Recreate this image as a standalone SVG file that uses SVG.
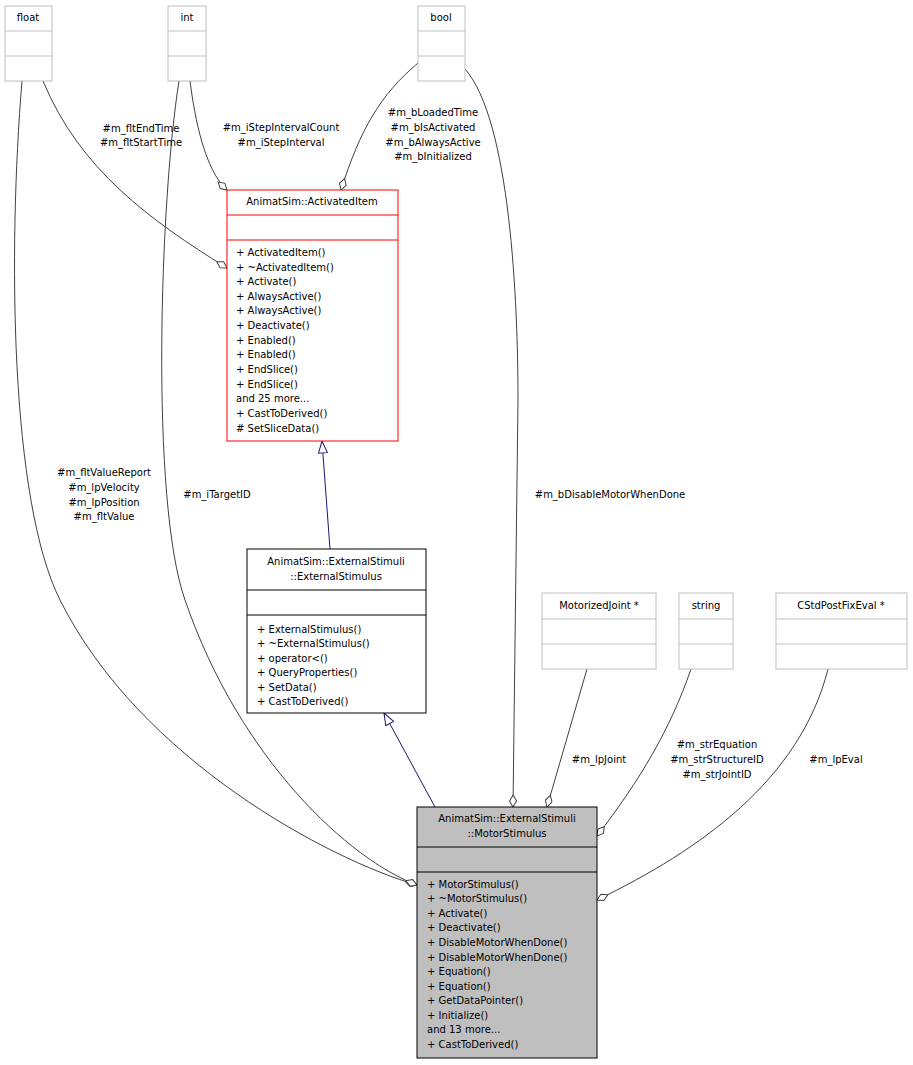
<svg xmlns="http://www.w3.org/2000/svg" width="913" height="1065" viewBox="0 0 913 1065">
<style>
text{font-family:"DejaVu Sans","Liberation Sans",sans-serif;font-size:10px;fill:#000}
.c{text-anchor:middle}
.g rect,.g line{fill:#fff;stroke:#bfbfbf;stroke-width:1}
.e{fill:none;stroke:#404040;stroke-width:1}
.i{fill:none;stroke:#191970;stroke-width:1}
</style>
<defs>
<marker id="d" markerUnits="userSpaceOnUse" markerWidth="14" markerHeight="8" refX="13" refY="4" orient="auto"><path d="M1,4 L7,0.5 L13,4 L7,7.5 Z" fill="#fff" stroke="#404040"/></marker>
<marker id="t" markerUnits="userSpaceOnUse" markerWidth="14" markerHeight="10" refX="13" refY="5" orient="auto"><path d="M1,0.5 L13,5 L1,9.5 Z" fill="#fff" stroke="#191970"/></marker>
</defs>
<rect width="913" height="1065" fill="#fff"/>
<g id="connectors">
<path class="e" d="M43,81 C80,170 150,220 227,268" marker-end="url(#d)"/>
<path class="e" d="M22,81 C8,250 10,500 60,600 C140,760 330,860 417,885" marker-end="url(#d)"/>
<path class="e" d="M190,81 C195,120 205,170 227,190" marker-end="url(#d)"/>
<path class="e" d="M179,81 C160,200 150,500 185,600 C240,760 350,860 417,885" marker-end="url(#d)"/>
<path class="e" d="M418,63 C380,95 360,130 341,190" marker-end="url(#d)"/>
<path class="e" d="M465,69 C510,120 518,300 518,400 L513,807" marker-end="url(#d)"/>
<path class="e" d="M587,669 L547,807" marker-end="url(#d)"/>
<path class="e" d="M691,669 C670,730 640,780 597,836" marker-end="url(#d)"/>
<path class="e" d="M828,669 C800,780 700,850 597,900" marker-end="url(#d)"/>
<path class="i" d="M330,549 L322,441" marker-end="url(#t)"/>
<path class="i" d="M435,807 L384,713" marker-end="url(#t)"/>
<text class="c" x="141" y="132">#m_fltEndTime</text>
<text class="c" x="141" y="146">#m_fltStartTime</text>
<text class="c" x="281" y="131">#m_iStepIntervalCount</text>
<text class="c" x="281" y="146">#m_iStepInterval</text>
<text class="c" x="433" y="116">#m_bLoadedTime</text>
<text class="c" x="433" y="131">#m_bIsActivated</text>
<text class="c" x="433" y="146">#m_bAlwaysActive</text>
<text class="c" x="433" y="160">#m_bInitialized</text>
<text class="c" x="104" y="476">#m_fltValueReport</text>
<text class="c" x="104" y="491">#m_lpVelocity</text>
<text class="c" x="104" y="506">#m_lpPosition</text>
<text class="c" x="104" y="520">#m_fltValue</text>
<text class="c" x="217" y="498">#m_iTargetID</text>
<text class="c" x="610" y="498">#m_bDisableMotorWhenDone</text>
<text class="c" x="599" y="763">#m_lpJoint</text>
<text class="c" x="717" y="748">#m_strEquation</text>
<text class="c" x="717" y="763">#m_strStructureID</text>
<text class="c" x="717" y="778">#m_strJointID</text>
<text class="c" x="836" y="763">#m_lpEval</text>
</g>
<g id="float" class="g"><rect x="5" y="6" width="47" height="75"/><line x1="5" y1="31" x2="52" y2="31"/><line x1="5" y1="56" x2="52" y2="56"/><text class="c" x="28" y="21">float</text></g>
<g id="int" class="g"><rect x="168" y="6" width="38" height="75"/><line x1="168" y1="31" x2="206" y2="31"/><line x1="168" y1="56" x2="206" y2="56"/><text class="c" x="187" y="21">int</text></g>
<g id="bool" class="g"><rect x="418" y="6" width="47" height="75"/><line x1="418" y1="31" x2="465" y2="31"/><line x1="418" y1="56" x2="465" y2="56"/><text class="c" x="441" y="21">bool</text></g>
<g id="motorizedjoint" class="g"><rect x="542" y="593" width="114" height="76"/><line x1="542" y1="619" x2="656" y2="619"/><line x1="542" y1="644" x2="656" y2="644"/><text class="c" x="599" y="609">MotorizedJoint *</text></g>
<g id="string" class="g"><rect x="679" y="593" width="54" height="76"/><line x1="679" y1="619" x2="733" y2="619"/><line x1="679" y1="644" x2="733" y2="644"/><text class="c" x="706" y="609">string</text></g>
<g id="cstdpostfixeval" class="g"><rect x="776" y="593" width="131" height="76"/><line x1="776" y1="619" x2="907" y2="619"/><line x1="776" y1="644" x2="907" y2="644"/><text class="c" x="841" y="609">CStdPostFixEval *</text></g>
<g id="activateditem">
<rect x="227" y="190" width="171" height="251" fill="#fff" stroke="#ff0000"/>
<line x1="227" y1="215" x2="398" y2="215" stroke="#ff0000"/><line x1="227" y1="240" x2="398" y2="240" stroke="#ff0000"/>
<text class="c" x="312" y="205">AnimatSim::ActivatedItem</text>
<text x="236" y="256">+ ActivatedItem()</text>
<text x="236" y="271">+ ~ActivatedItem()</text>
<text x="236" y="285">+ Activate()</text>
<text x="236" y="300">+ AlwaysActive()</text>
<text x="236" y="314">+ AlwaysActive()</text>
<text x="236" y="329">+ Deactivate()</text>
<text x="236" y="344">+ Enabled()</text>
<text x="236" y="358">+ Enabled()</text>
<text x="236" y="373">+ EndSlice()</text>
<text x="236" y="388">+ EndSlice()</text>
<text x="236" y="402">and 25 more...</text>
<text x="236" y="417">+ CastToDerived()</text>
<text x="236" y="432"># SetSliceData()</text>
</g>
<g id="externalstimulus">
<rect x="247" y="549" width="179" height="164" fill="#fff" stroke="#000"/>
<line x1="247" y1="590" x2="426" y2="590" stroke="#000"/><line x1="247" y1="615" x2="426" y2="615" stroke="#000"/>
<text class="c" x="336" y="565">AnimatSim::ExternalStimuli</text>
<text class="c" x="336" y="580">::ExternalStimulus</text>
<text x="257" y="633">+ ExternalStimulus()</text>
<text x="257" y="647">+ ~ExternalStimulus()</text>
<text x="257" y="662">+ operator&lt;()</text>
<text x="257" y="676">+ QueryProperties()</text>
<text x="257" y="691">+ SetData()</text>
<text x="257" y="705">+ CastToDerived()</text>
</g>
<g id="motorstimulus">
<rect x="417" y="807" width="180" height="251" fill="#bfbfbf" stroke="#000"/>
<line x1="417" y1="847" x2="597" y2="847" stroke="#000"/><line x1="417" y1="872" x2="597" y2="872" stroke="#000"/>
<text class="c" x="507" y="822">AnimatSim::ExternalStimuli</text>
<text class="c" x="507" y="837">::MotorStimulus</text>
<text x="427" y="888">+ MotorStimulus()</text>
<text x="427" y="902">+ ~MotorStimulus()</text>
<text x="427" y="917">+ Activate()</text>
<text x="427" y="931">+ Deactivate()</text>
<text x="427" y="946">+ DisableMotorWhenDone()</text>
<text x="427" y="961">+ DisableMotorWhenDone()</text>
<text x="427" y="975">+ Equation()</text>
<text x="427" y="990">+ Equation()</text>
<text x="427" y="1004">+ GetDataPointer()</text>
<text x="427" y="1019">+ Initialize()</text>
<text x="427" y="1033">and 13 more...</text>
<text x="427" y="1048">+ CastToDerived()</text>
</g>
</svg>
